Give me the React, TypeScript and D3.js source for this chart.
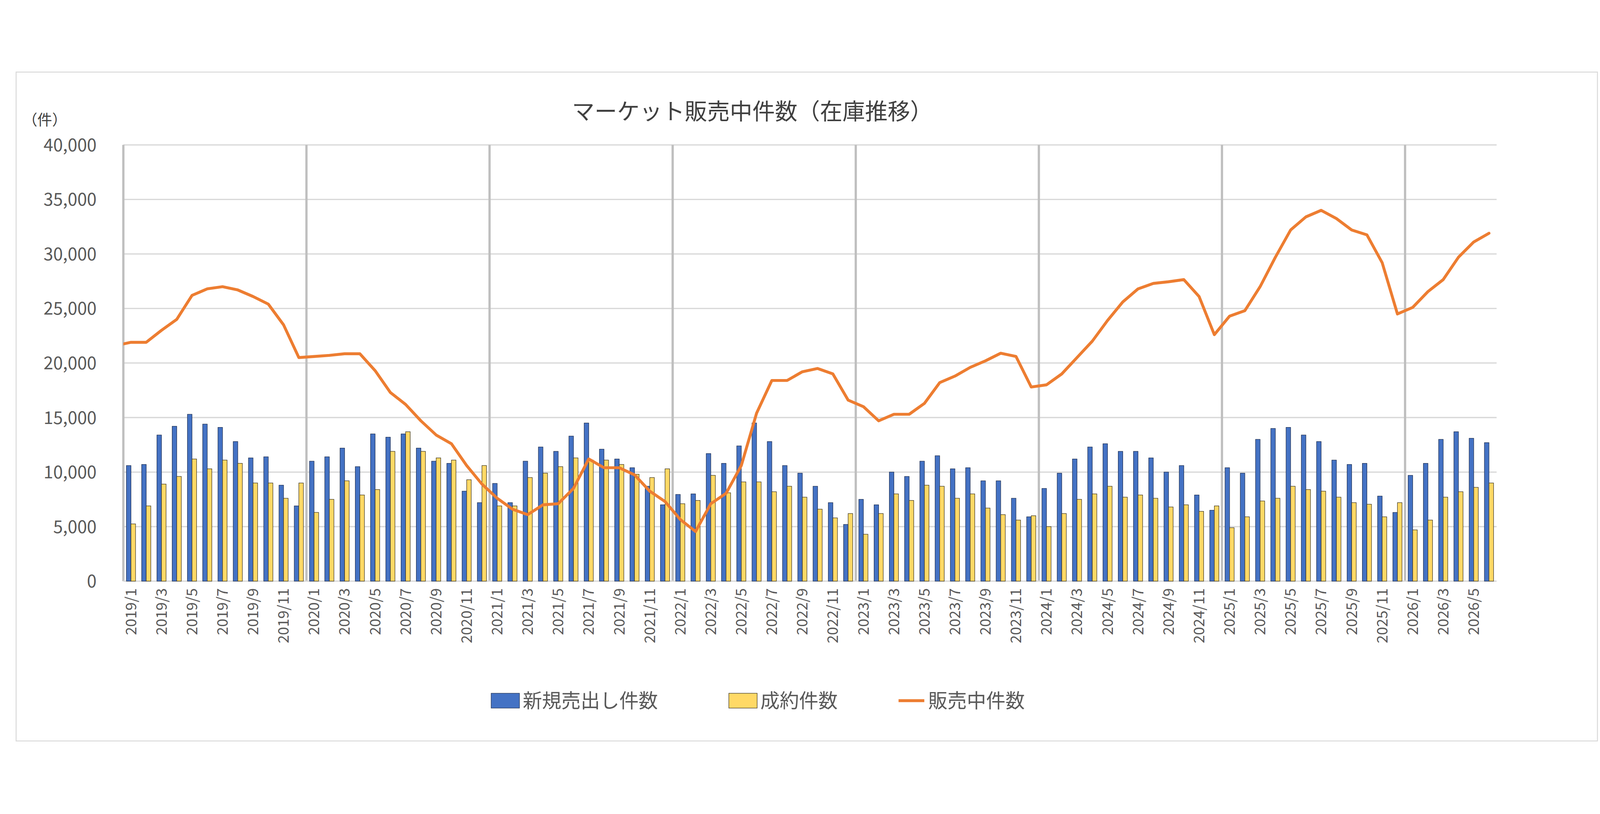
import React from "react";
import * as d3 from "d3";

const years = [2019, 2020, 2021, 2022, 2023, 2024, 2025, 2026];
const months: string[] = [];
years.forEach((y) => { for (let m = 1; m <= 12; m++) { if (y === 2026 && m > 6) break; months.push(`${y}/${m}`); } });

const newListings = [
  10.6, 10.7, 13.4, 14.2, 15.3, 14.4, 14.1, 12.8, 11.3, 11.4, 8.8, 6.9,
  11.0, 11.4, 12.2, 10.5, 13.5, 13.2, 13.5, 12.2, 11.0, 10.8, 8.25, 7.2,
  8.96, 7.2, 11.0, 12.3, 11.9, 13.3, 14.5, 12.1, 11.2, 10.4, 8.7, 7.0,
  7.95, 8.0, 11.7, 10.8, 12.4, 14.5, 12.8, 10.6, 9.9, 8.7, 7.2, 5.2,
  7.5, 7.0, 10.0, 9.6, 11.0, 11.5, 10.3, 10.4, 9.2, 9.2, 7.6, 5.9,
  8.5, 9.9, 11.2, 12.3, 12.6, 11.9, 11.9, 11.3, 10.0, 10.6, 7.9, 6.5,
  10.4, 9.9, 13.0, 14.0, 14.1, 13.4, 12.8, 11.1, 10.7, 10.8, 7.8, 6.3,
  9.7, 10.8, 13.0, 13.7, 13.1, 12.7,
].map((v) => v * 1000);

const contracts = [
  5.25, 6.9, 8.9, 9.6, 11.2, 10.3, 11.1, 10.8, 9.0, 9.0, 7.6, 9.0,
  6.3, 7.5, 9.2, 7.9, 8.4, 11.9, 13.7, 11.9, 11.3, 11.1, 9.3, 10.6,
  6.9, 6.9, 9.5, 9.9, 10.5, 11.3, 11.1, 11.1, 10.7, 9.8, 9.5, 10.3,
  7.1, 7.4, 9.7, 8.1, 9.1, 9.1, 8.2, 8.7, 7.7, 6.6, 5.8, 6.2,
  4.3, 6.2, 8.0, 7.4, 8.8, 8.7, 7.6, 8.0, 6.7, 6.1, 5.6, 6.0,
  5.0, 6.2, 7.5, 8.0, 8.7, 7.7, 7.9, 7.6, 6.8, 7.0, 6.4, 6.9,
  4.9, 5.9, 7.35, 7.6, 8.7, 8.4, 8.25, 7.7, 7.2, 7.05, 5.9, 7.2,
  4.7, 5.6, 7.7, 8.2, 8.6, 9.0,
].map((v) => v * 1000);

const inventoryPrev = 21600; // 2018/12 value, clipped at left edge
const inventory = [
  21.9, 21.9, 23.0, 24.0, 26.2, 26.8, 27.0, 26.7, 26.1, 25.4, 23.5, 20.5,
  20.6, 20.7, 20.85, 20.85, 19.3, 17.3, 16.2, 14.7, 13.4, 12.6, 10.6, 8.9,
  7.6, 6.6, 6.1, 7.0, 7.1, 8.5, 11.2, 10.4, 10.4, 9.75, 8.25, 7.3,
  5.65, 4.55, 7.1, 8.05, 10.6, 15.4, 18.4, 18.4, 19.2, 19.5, 19.0, 16.6,
  16.0, 14.7, 15.3, 15.3, 16.3, 18.2, 18.8, 19.6, 20.2, 20.9, 20.6, 17.8,
  18.0, 19.0, 20.5, 22.0, 23.9, 25.6, 26.8, 27.3, 27.45, 27.65, 26.1, 22.6,
  24.3, 24.8, 27.0, 29.7, 32.2, 33.4, 34.0, 33.25, 32.2, 31.75, 29.2, 24.5,
  25.1, 26.55, 27.65, 29.7, 31.1, 31.9,
].map((v) => v * 1000);

const yTicks = [0, 5000, 10000, 15000, 20000, 25000, 30000, 35000, 40000];
const seriesNames = ["新規売出し件数", "成約件数", "販売中件数"];
const title = "マーケット販売中件数（在庫推移）";
const unitLabel = "（件）";

const FONT = "'Noto Sans CJK JP', 'Noto Sans', sans-serif";
const TXT = "#595959";

export default function App() {
  const W = 4968, H = 2083;
  const L = 383, R = 4647, T = 228, B = 1582;
  const x = d3.scaleBand<string>().domain(months).range([L, R]).paddingInner(0).paddingOuter(0);
  const y = d3.scaleLinear().domain([0, 40000]).range([B, T]);
  const bw = x.bandwidth();
  const barW = bw * 0.3;
  const cx = (i: number) => (x(months[i]) as number) + bw / 2;
  const linePts: [number, number][] = [[cx(0) - bw, y(inventoryPrev)], ...inventory.map((v, i) => [cx(i), y(v)] as [number, number])];
  const line = d3.line()(linePts) || "";
  const fmt = d3.format(",");
  return (
    <svg viewBox={`0 0 ${W} ${H}`} preserveAspectRatio="xMidYMid meet"
      style={{ position: "fixed", left: 0, top: 0, width: "100vw", height: "100vh", display: "block", fontFamily: FONT, background: "#fff" }}>
      <rect x={50} y={2} width={4910} height={2076} fill="#fff" stroke="#d9d9d9" strokeWidth={3} />
      <defs>
        <clipPath id="plot"><rect x={L} y={T - 20} width={R - L} height={B - T + 20} /></clipPath>
      </defs>
      <text x={2336} y={150} textAnchor="middle" fontSize={70} fill="#404040">{title}</text>
      <text x={70} y={166} fontSize={46} fill="#404040">{unitLabel}</text>
      {yTicks.map((t) => (
        <g key={t}>
          {t > 0 && <line x1={L} x2={R} y1={y(t)} y2={y(t)} stroke="#d9d9d9" strokeWidth={4} />}
          <text x={300} y={y(t)} dy="0.36em" textAnchor="end" fontSize={54} fill={TXT}>{fmt(t)}</text>
        </g>
      ))}
      {years.map((yr) => {
        const xx = x(`${yr}/1`) as number;
        return <line key={yr} x1={xx} x2={xx} y1={T} y2={B} stroke="#bfbfbf" strokeWidth={7} />;
      })}
      <line x1={L} x2={R} y1={B} y2={B} stroke="#d9d9d9" strokeWidth={4} />
      {months.map((m, i) => (
        <g key={m}>
          <rect x={cx(i) - barW} y={y(newListings[i])} width={barW} height={B - y(newListings[i])} fill="#4472C4" stroke="#1f2f50" strokeWidth={1.5} />
          <rect x={cx(i)} y={y(contracts[i])} width={barW} height={B - y(contracts[i])} fill="#FFD966" stroke="#3a3420" strokeWidth={1.5} />
        </g>
      ))}
      <path d={line} fill="none" stroke="#ED7D31" strokeWidth={9} strokeLinejoin="round" strokeLinecap="round" clipPath="url(#plot)" />
      {months.map((m, i) => i % 2 === 0 ? (
        <text key={m} transform={`translate(${cx(i)},${B + 22}) rotate(-90)`} textAnchor="end" dy="0.35em" fontSize={46} fill={TXT}>{m}</text>
      ) : null)}
      <g fontSize={60} fill={TXT}>
        <rect x={1525} y={1930} width={88} height={46} fill="#4472C4" stroke="#1f2f50" strokeWidth={1.5} />
        <text x={1623} y={1953} dy="0.36em">{seriesNames[0]}</text>
        <rect x={2263} y={1930} width={88} height={46} fill="#FFD966" stroke="#3a3420" strokeWidth={1.5} />
        <text x={2361} y={1953} dy="0.36em">{seriesNames[1]}</text>
        <line x1={2790} x2={2870} y1={1953} y2={1953} stroke="#ED7D31" strokeWidth={9} />
        <text x={2882} y={1953} dy="0.36em">{seriesNames[2]}</text>
      </g>
    </svg>
  );
}
